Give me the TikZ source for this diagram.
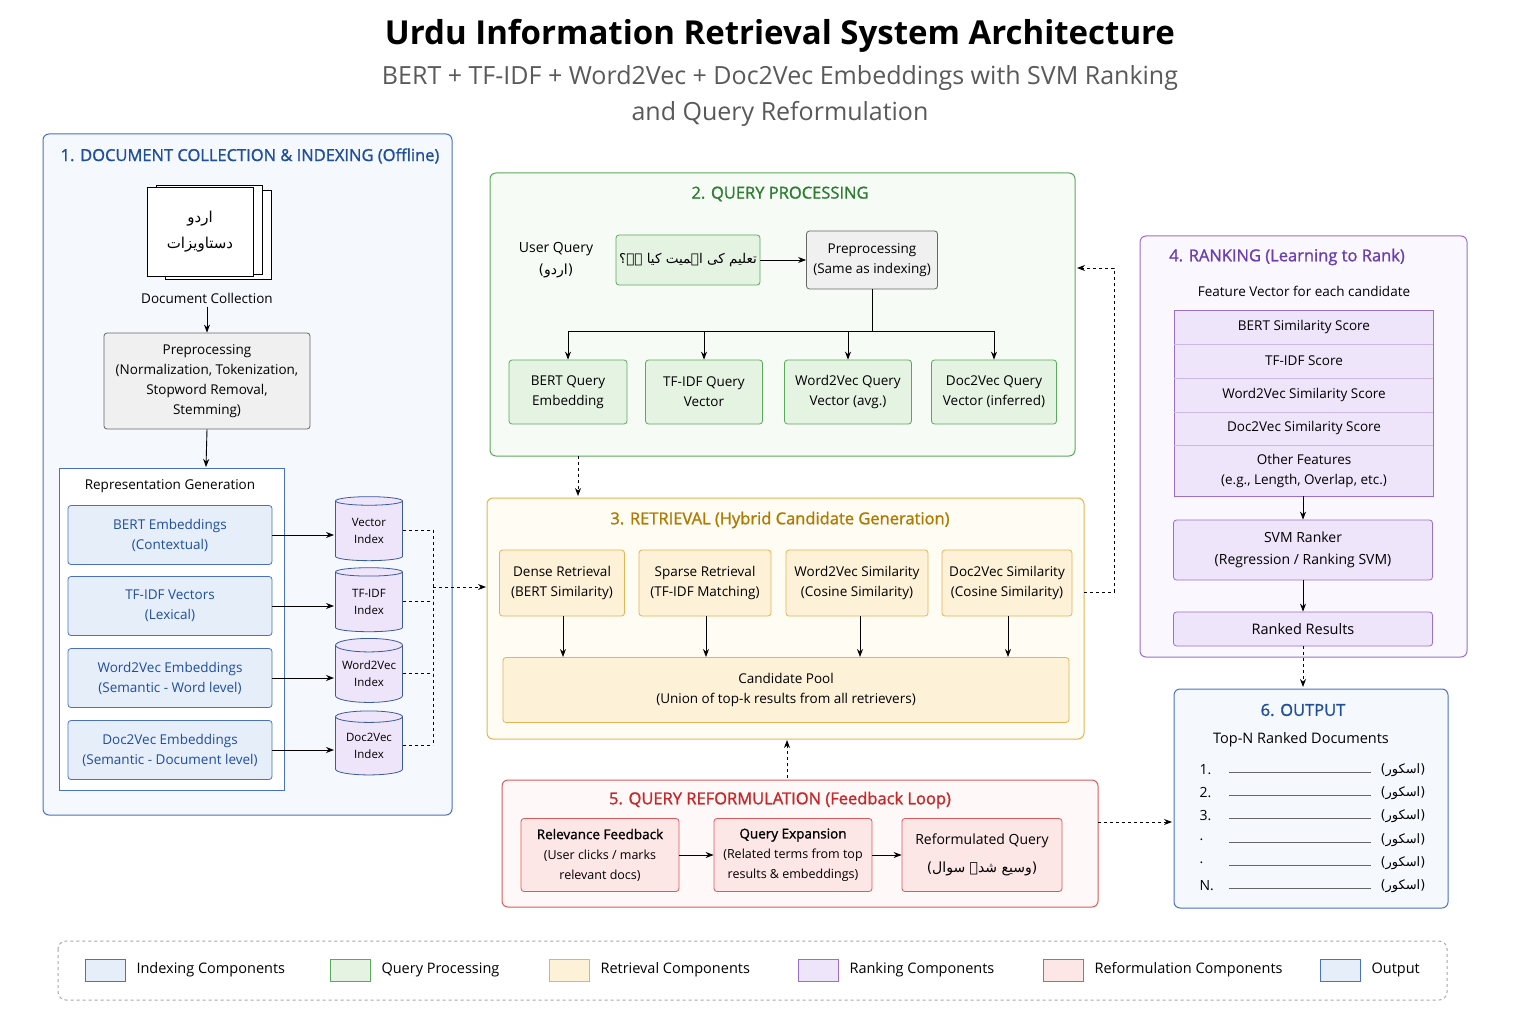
\documentclass[tikz,border=0pt]{standalone}
\usepackage{fontspec}
\setmainfont{Open Sans}
\newfontfamily\urdufont[Script=Arabic]{DejaVu Sans}
\TeXXeTstate=1
\newcommand{\ur}[1]{{\urdufont\beginR #1\endR}}
\usetikzlibrary{arrows.meta,shapes.geometric}
\definecolor{bB}{HTML}{4A72C4}\definecolor{bF}{HTML}{F5F8FD}\definecolor{bI}{HTML}{E6EEFA}
\definecolor{gB}{HTML}{5BAA5B}\definecolor{gF}{HTML}{F6FBF5}\definecolor{gI}{HTML}{E5F3E2}
\definecolor{oB}{HTML}{E5B454}\definecolor{oF}{HTML}{FFFCF4}\definecolor{oI}{HTML}{FDF1D8}
\definecolor{pB}{HTML}{9B6FD0}\definecolor{pF}{HTML}{FAF7FE}\definecolor{pI}{HTML}{EEE5FA}
\definecolor{rB}{HTML}{DD5A5A}\definecolor{rF}{HTML}{FFF8F8}\definecolor{rI}{HTML}{FCE6E6}
\definecolor{tB}{HTML}{1F4E9C}\definecolor{tG}{HTML}{2E7D32}\definecolor{tO}{HTML}{B07A00}\definecolor{tP}{HTML}{6A3FB0}\definecolor{tR}{HTML}{C62828}
\tikzset{
 grp/.style={draw=#1,rounded corners=6pt,line width=1pt},
 bx/.style={draw=#1,rounded corners=3pt,line width=0.8pt,align=center,font=\fontsize{13.5}{20}\selectfont,inner sep=0pt},
 arr/.style={-{Stealth[length=8pt,width=6pt]},line width=0.9pt},
 dsh/.style={dashed,line width=0.9pt},
 ttl/.style={font=\fontsize{16.5}{20}\selectfont\FakeBoldTtl},
 cyl/.style={cylinder,shape border rotate=90,aspect=0.25,draw=#1,fill=pI,minimum width=67pt,minimum height=64pt,align=center,font=\fontsize{11.5}{17}\selectfont,line width=0.8pt,inner sep=0pt},
 sm/.style={font=\fontsize{13.5}{20}\selectfont,align=center},
}
\newfontfamily\ttlfont[FakeBold=1.2]{Open Sans}
\newcommand{\FakeBoldTtl}{\ttlfont}
\begin{document}
\begin{tikzpicture}[x=1pt,y=-1pt]
\useasboundingbox (0,0) rectangle (1536,1024);
\fill[white] (0,0) rectangle (1536,1024);
\node[font=\bfseries\fontsize{33}{38}\selectfont] (title) at (780,36) {Urdu Information Retrieval System Architecture};
\node[font=\fontsize{25}{36}\selectfont,text=black!65,align=center] (sub) at (780,96) {BERT + TF-IDF + Word2Vec + Doc2Vec Embeddings with SVM Ranking\\and Query Reformulation};
% box1
\draw[grp=bB,fill=bF] (43,134) rectangle (452,815);
\node[ttl,text=tB] (t1) at (250,156) {1. DOCUMENT COLLECTION \& INDEXING (Offline)};
\foreach \d in {18,9}{\draw[fill=white,line width=0.8pt] (147+\d,181+\d/2) rectangle (253+\d,270+\d/2);}
\node[draw,fill=white,line width=0.8pt,minimum width=106pt,minimum height=89pt,align=center,font=\fontsize{15}{26}\selectfont] (docs) at (200,232) {\ur{اردو}\\\ur{دستاویزات}};
\node[sm] (dcl) at (207,298) {Document Collection};
\node[bx=black!60,fill=black!6,minimum width=206pt,minimum height=96pt] (pre) at (207,381) {Preprocessing\\(Normalization, Tokenization,\\Stopword Removal,\\Stemming)};
\draw[arr] (dcl.south) -- (pre.north);
\draw[line width=0.8pt,draw=bB,fill=white] (59,468) rectangle (284,790);
\node[sm] (rg) at (170,486) {Representation Generation};
\draw[arr] (pre.south) -- (206,467);
\foreach \n/\y/\t/\c in {e1/535/{BERT Embeddings\\(Contextual)}/{Vector\\Index},e2/606/{TF-IDF Vectors\\(Lexical)}/{TF-IDF\\Index},e3/678/{Word2Vec Embeddings\\(Semantic - Word level)}/{Word2Vec\\Index},e4/750/{Doc2Vec Embeddings\\(Semantic - Document level)}/{Doc2Vec\\Index}}{
 \node[bx=bB,fill=bI,text=tB,minimum width=204pt,minimum height=59pt] (\n) at (170,\y) {\t};
 \node[cyl=bB!80!black] (c\n) at (369,\y-4) {\c};
 \draw[arr] (\n.east) -- (334,\y);
 \draw[dsh] (403,\y-5) -- (433,\y-5);
}
\draw[dsh] (433,530) -- (433,745);
\coordinate (dj) at (433,587);
% box2
\draw[grp=gB,fill=gF] (490,173) rectangle (1075,456);
\node[ttl,text=tG] (t2) at (780,194) {2. QUERY PROCESSING};
\node[sm,font=\fontsize{14}{22}\selectfont] (uq) at (556,260) {User Query\\\ur{(اردو)}};
\node[bx=gB,fill=gI,minimum width=144pt,minimum height=50pt] (q) at (688,260) {\ur{تعلیم کی اہمیت کیا ہے؟}};
\node[bx=black!60,fill=black!6,minimum width=131pt,minimum height=58pt] (qp) at (872,260) {Preprocessing\\(Same as indexing)};
\draw[arr] (q.east) -- (qp.west);
\foreach \n/\x/\w/\t in {b1/568/118/{BERT Query\\Embedding},b2/704/117/{TF-IDF Query\\Vector},b3/848/127/{Word2Vec Query\\Vector (avg.)},b4/994/125/{Doc2Vec Query\\Vector (inferred)}}{
 \node[bx=gB,fill=gI,minimum width=\w pt,minimum height=64pt] (\n) at (\x,392) {\t};
 \draw[arr] (\x,331) -- (\n.north);}
\draw[line width=0.9pt] (qp.south) -- (872,331);
\draw[line width=0.9pt] (568,331) -- (994,331);
% box3
\draw[grp=oB,fill=oF] (487,498) rectangle (1084,739);
\node[ttl,text=tO] (t3) at (780,520) {3. RETRIEVAL (Hybrid Candidate Generation)};
\node[bx=oB,fill=oI,minimum width=566pt,minimum height=65pt] (pool) at (786,690) {Candidate Pool\\(Union of top-k results from all retrievers)};
\foreach \n/\x/\w/\t in {r1/562/125/{Dense Retrieval\\(BERT Similarity)},r2/705/132/{Sparse Retrieval\\(TF-IDF Matching)},r3/857/142/{Word2Vec Similarity\\(Cosine Similarity)},r4/1007/130/{Doc2Vec Similarity\\(Cosine Similarity)}}{
 \node[bx=oB,fill=oI,minimum width=\w pt,minimum height=66pt] (\n) at (\x,583) {\t};}
\foreach \n/\x in {r1/563,r2/706,r3/860,r4/1008}{\draw[arr] (\x,616) -- (\x,657);}
\draw[dsh,-{Stealth[length=8pt,width=6pt]}] (dj) -- (486,587);
\draw[dsh,-{Stealth[length=8pt,width=6pt]}] (578,456) -- (578,496);
\draw[dsh,-{Stealth[length=8pt,width=6pt]}] (1084,592) -- (1114,592) -- (1114,268) -- (1077,268);
% box4
\draw[grp=pB,fill=pF] (1140,236) rectangle (1467,657);
\node[ttl,text=tP] (t4) at (1287,257) {4. RANKING (Learning to Rank)};
\node[sm] (fv) at (1304,291) {Feature Vector for each candidate};
\draw[draw=pB,fill=pI,line width=0.8pt] (1174,310) rectangle (1433,496);
\foreach \y in {344,378,412,445}{\draw[pB!50,line width=0.6pt] (1174,\y) -- (1433,\y);}
\node[sm] (f1) at (1304,327) {BERT Similarity Score};
\node[sm] (f2) at (1304,361) {TF-IDF Score};
\node[sm] (f3) at (1304,395) {Word2Vec Similarity Score};
\node[sm] (f4) at (1304,428) {Doc2Vec Similarity Score};
\node[sm] (f5) at (1304,471) {Other Features\\(e.g., Length, Overlap, etc.)};
\node[bx=pB,fill=pI,minimum width=259pt,minimum height=60pt,font=\fontsize{14}{22}\selectfont] (svm) at (1303,550) {SVM Ranker\\(Regression / Ranking SVM)};
\node[bx=pB,fill=pI,minimum width=259pt,minimum height=34pt,font=\fontsize{14.5}{18}\selectfont] (rr) at (1303,629) {Ranked Results};
\draw[arr] (1303,496) -- (svm.north);
\draw[arr] (svm.south) -- (rr.north);
% box6
\draw[grp=bB,fill=bF] (1174,689) rectangle (1448,908);
\node[ttl,text=tB] (t6) at (1303,710) {6. OUTPUT};
\node[sm,font=\fontsize{14.5}{18}\selectfont] (topn) at (1301,740) {Top-N Ranked Documents};
\draw[dsh,-{Stealth[length=8pt,width=6pt]}] (rr.south) -- (1303,687);
\foreach \l/\y in {1./770,2./793,3./816,./840,./863,N./886}{
 \node[font=\fontsize{14}{18}\selectfont,anchor=west] at (1196,\y) {\l};
 \draw[black!60,line width=0.6pt] (1229,\y+2) -- (1371,\y+2);
 \node[font=\fontsize{13}{18}\selectfont,anchor=west] at (1377,\y) {\ur{(اسکور)}};}
% box5
\draw[grp=rB,fill=rF] (502,780) rectangle (1098,907);
\node[ttl,text=tR] (t5) at (780,800) {5. QUERY REFORMULATION (Feedback Loop)};
\node[bx=rB,fill=rI,minimum width=158pt,minimum height=73pt] (rf) at (600,855) {{\ttlfont Relevance Feedback}\\{\fontsize{12.5}{19}\selectfont(User clicks / marks}\\{\fontsize{12.5}{19}\selectfont relevant docs)}};
\node[bx=rB,fill=rI,minimum width=158pt,minimum height=73pt] (qe) at (793,855) {{\ttlfont Query Expansion}\\{\fontsize{12.5}{19}\selectfont(Related terms from top}\\{\fontsize{12.5}{19}\selectfont results \& embeddings)}};
\node[bx=rB,fill=rI,minimum width=160pt,minimum height=73pt,font=\fontsize{14}{28}\selectfont] (rq) at (982,855) {Reformulated Query\\\ur{(وسیع شدہ سوال)}};
\draw[arr] (rf.east) -- (qe.west);
\draw[arr] (qe.east) -- (rq.west);
\draw[dsh,-{Stealth[length=8pt,width=6pt]}] (787,778) -- (787,740);
\draw[dsh,-{Stealth[length=8pt,width=6pt]}] (1098,822) -- (1172,822);
% legend
\draw[dashed,black!35,rounded corners=8pt,line width=1pt] (58,941) rectangle (1447,1000);
\foreach \x/\b/\f/\t in {85/bB/bI/Indexing Components,330/gB/gI/Query Processing,549/oB/oI/Retrieval Components,798/pB/pI/Ranking Components,1043/rB/rI/Reformulation Components,1320/bB/bI/Output}{
 \draw[draw=\b,fill=\f,line width=0.8pt] (\x,959) rectangle (\x+40,981);
 \node[anchor=west,font=\fontsize{14.5}{18}\selectfont] at (\x+48,970) {\t};}
\end{tikzpicture}
\end{document}
